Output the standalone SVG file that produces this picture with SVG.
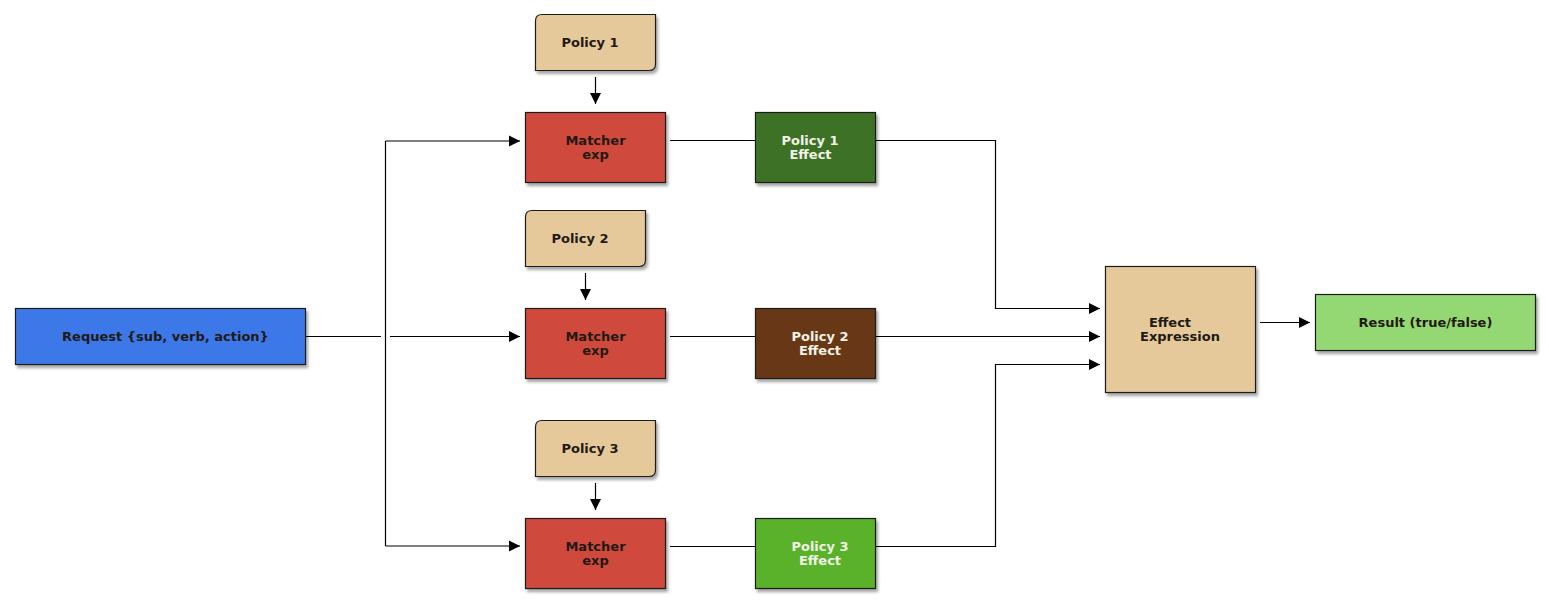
<svg xmlns="http://www.w3.org/2000/svg" width="1549" height="616" viewBox="0 0 1549 616">
<style>
.box{stroke:#1e1e1e;stroke-width:1.2;filter:url(#sh)}
.t{font-family:"DejaVu Sans","Liberation Sans",sans-serif;font-weight:bold;font-size:13px;text-anchor:middle}
.dk{fill:#1f1a14}
.lt{fill:#f2f2e6}
.ln{fill:none;stroke:#000;stroke-width:1.2}
.ar{marker-end:url(#ah)}
</style>
<defs>
<filter id="sh" x="-10%" y="-10%" width="130%" height="140%">
<feDropShadow dx="2" dy="3" stdDeviation="1.8" flood-color="#000" flood-opacity="0.35"/>
</filter>
<marker id="ah" markerUnits="userSpaceOnUse" markerWidth="12" markerHeight="12" refX="11" refY="6" orient="auto">
<path d="M0,0.5 L11,6 L0,11.5 z" fill="#000"/>
</marker>
</defs>
<rect width="1549" height="616" fill="#fff"/>
<g id="connectors">
<path class="ln" d="M306,336.5 H381"/>
<path class="ln ar" d="M390,336.5 H520"/>
<path class="ln" d="M385.5,141 V546"/>
<path class="ln ar" d="M385.5,141 H520"/>
<path class="ln ar" d="M385.5,546 H520"/>
<path class="ln ar" d="M595.5,77 V104"/>
<path class="ln ar" d="M585.5,273 V300"/>
<path class="ln ar" d="M595.5,483 V510"/>
<path class="ln" d="M670,140.5 H755"/>
<path class="ln" d="M670,336.5 H755"/>
<path class="ln" d="M670,546.5 H755"/>
<path class="ln ar" d="M876,140.5 H995.5 V308.5 H1100"/>
<path class="ln ar" d="M876,336.5 H1100"/>
<path class="ln ar" d="M876,546.5 H995.5 V364.5 H1100"/>
<path class="ln ar" d="M1260,322.5 H1310"/>
</g>
<g id="request">
<rect class="box" x="15.5" y="308.5" width="290" height="56" fill="#3d78e8"/>
<text class="t dk" x="165.5" y="341">Request {sub, verb, action}</text>
</g>
<g id="policy1">
<path class="box" d="M542,14.5 H655.5 V64 Q655.5,70.5 649,70.5 H535.5 V21 Q535.5,14.5 542,14.5 z" fill="#e5c99b"/>
<text class="t dk" x="590" y="47">Policy 1</text>
</g>
<g id="matcher1">
<rect class="box" x="525.5" y="112.5" width="140" height="70" fill="#d04a3d"/>
<text class="t dk" x="595.5" y="145">Matcher</text>
<text class="t dk" x="595.5" y="159">exp</text>
</g>
<g id="effect1">
<rect class="box" x="755.5" y="112.5" width="120" height="70" fill="#3e7125"/>
<text class="t lt" x="810" y="145">Policy 1</text>
<text class="t lt" x="810.5" y="159">Effect</text>
</g>
<g id="policy2">
<path class="box" d="M532,210.5 H645.5 V260 Q645.5,266.5 639,266.5 H525.5 V217 Q525.5,210.5 532,210.5 z" fill="#e5c99b"/>
<text class="t dk" x="580" y="243">Policy 2</text>
</g>
<g id="matcher2">
<rect class="box" x="525.5" y="308.5" width="140" height="70" fill="#d04a3d"/>
<text class="t dk" x="595.5" y="341">Matcher</text>
<text class="t dk" x="595.5" y="355">exp</text>
</g>
<g id="effect2">
<rect class="box" x="755.5" y="308.5" width="120" height="70" fill="#673816"/>
<text class="t lt" x="820" y="341">Policy 2</text>
<text class="t lt" x="820" y="355">Effect</text>
</g>
<g id="policy3">
<path class="box" d="M542,420.5 H655.5 V470 Q655.5,476.5 649,476.5 H535.5 V427 Q535.5,420.5 542,420.5 z" fill="#e5c99b"/>
<text class="t dk" x="590" y="453">Policy 3</text>
</g>
<g id="matcher3">
<rect class="box" x="525.5" y="518.5" width="140" height="70" fill="#d04a3d"/>
<text class="t dk" x="595.5" y="551">Matcher</text>
<text class="t dk" x="595.5" y="565">exp</text>
</g>
<g id="effect3">
<rect class="box" x="755.5" y="518.5" width="120" height="70" fill="#5ab12b"/>
<text class="t lt" x="820" y="551">Policy 3</text>
<text class="t lt" x="820" y="565">Effect</text>
</g>
<g id="effect-expression">
<rect class="box" x="1105.5" y="266.5" width="150" height="126" fill="#e5c99b"/>
<text class="t dk" x="1170" y="327">Effect</text>
<text class="t dk" x="1180" y="341">Expression</text>
</g>
<g id="result">
<rect class="box" x="1315.5" y="294.5" width="220" height="56" fill="#94d873"/>
<text class="t dk" x="1425.5" y="327">Result (true/false)</text>
</g>
</svg>
